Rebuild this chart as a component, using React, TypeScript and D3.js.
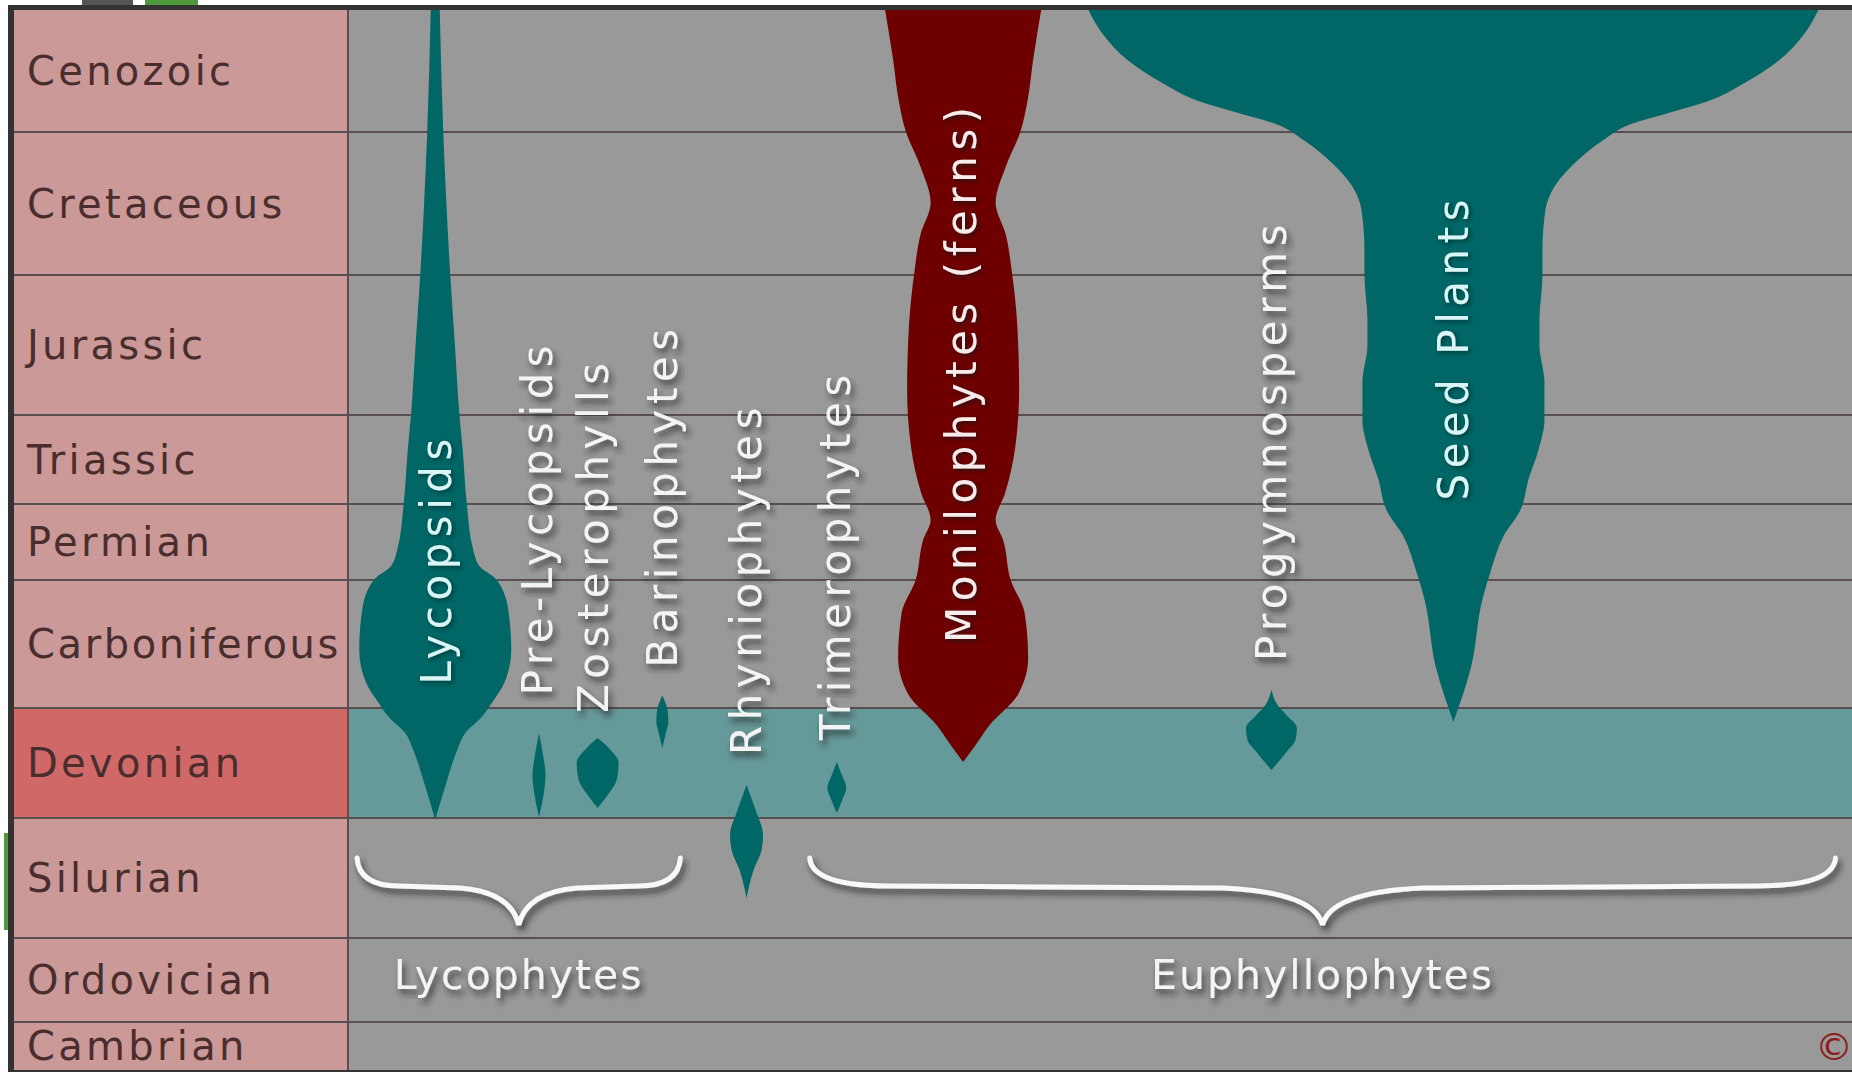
import * as d3 from 'd3';

const W = 1852;
const H = 1074;
const LABEL_COL = 348; // right edge of the period label column
const FRAME_LEFT = 14;

// geological periods, youngest first
const periods = ['Cenozoic', 'Cretaceous', 'Jurassic', 'Triassic', 'Permian', 'Carboniferous', 'Devonian', 'Silurian', 'Ordovician', 'Cambrian'];
// period boundaries in Ma
const boundariesMa = [0, 66, 145, 201, 252, 299, 359, 419, 443, 485, 541];
// rows are not to time scale: pixel edge of each boundary
const ROW_EDGES = [10, 132, 275, 415, 504, 580, 708, 818, 938, 1022, 1070];
const highlighted = 'Devonian';

// taxa (spindles): name, lane (0-100 across the plot), colour
const taxa = ['Lycopsids', 'Pre-Lycopsids', 'Zosterophylls', 'Barinophytes', 'Rhyniophytes', 'Trimerophytes', 'Monilophytes (ferns)', 'Progymnosperms', 'Seed Plants'];
const taxonLane = [5.8, 12.7, 16.6, 20.9, 26.5, 32.5, 40.9, 61.4, 73.5];
const taxonKind = ['teal', 'teal', 'teal', 'teal', 'teal', 'teal', 'fern', 'teal', 'teal'];

// label anchor: lane of the rotated label, age where the text starts (bottom)
const labelLane = [5.9, 12.6, 16.3, 20.9, 26.5, 32.4, 40.8, 61.4, 73.5];
const labelAge = [348, 353, 361.7, 340, 384.6, 376.5, 328.5, 337, 250];

// spindle profiles: [age Ma, relative diversity]
const lycopsids = [[0, 0.9], [66, 1.6], [104, 2.2], [145, 3.0], [175, 4.0], [200, 4.8], [221, 5.5], [251.4, 6.3], [280.4, 7.6], [291, 9.0], [297.1, 11.7], [303.7, 13.5], [316.4, 14.8], [331.8, 15.2], [347.3, 13.8], [356.7, 11.3], [363.9, 9.3], [372.6, 6.0], [381.9, 4.4], [399.9, 2.2], [419.4, 0]];
const preLycopsids = [[372.6, 0], [384.6, 0.8], [395.5, 1.3], [406.5, 0.9], [418.5, 0]];
const zosterophylls = [[375.4, 0], [380.8, 2.2], [389, 4.2], [398.3, 3.8], [406.5, 2.0], [413.5, 0]];
const barinophytes = [[353, 0], [361.2, 1.1], [366.6, 1.2], [373.7, 0.6], [380.8, 0]];
const rhyniophytes = [[401, 0], [414.6, 1.8], [422.4, 3.3], [425.4, 3.0], [429.4, 1.4], [435, 0]];
const trimerophytes = [[388.5, 0], [395.5, 1.0], [402.6, 1.9], [409, 1.1], [416.3, 0]];
const monilophytes = [[0, 15.6], [27, 14.0], [48.7, 12.9], [65.5, 11.5], [85.3, 8.5], [105.2, 6.5], [122.3, 8.5], [144.4, 9.8], [164.2, 10.8], [191, 11.2], [219.9, 10.4], [245.7, 8.4], [261.9, 6.5], [274.2, 8.0], [299, 9.5], [314.5, 12.3], [335.6, 13.0], [352.5, 11.0], [368.3, 5.3], [379.2, 2.5], [388.5, 0]];
const progymnosperms = [[350.5, 0], [357.6, 1.2], [362.8, 3.0], [369.9, 5.1], [376.5, 4.8], [383, 3.0], [392.8, 0]];
const seedPlants = [[0, 73], [13.5, 70], [27, 65.2], [39.5, 58.2], [49.2, 51], [55.7, 43], [61.7, 35.5], [70.4, 30], [82.6, 24.5], [95.3, 20.4], [109, 18.4], [131, 17.8], [145, 17.8], [163, 17.2], [173, 17.2], [188, 18.2], [204, 18.2], [221, 17.0], [238, 15.0], [255.7, 13.4], [272, 10.0], [293, 7.5], [308, 5.8], [340, 3.5], [366.6, 0]];
const profiles = [lycopsids, preLycopsids, zosterophylls, barinophytes, rhyniophytes, trimerophytes, monilophytes, progymnosperms, seedPlants];

// bracketed groups, lanes spanned
const groups = ['Lycophytes', 'Euphyllophytes'];
const groupFrom = [0.6, 30.7];
const groupTo = [22.1, 98.9];

const BRACE_TOP = 858;
const BRACE_MID = 886;
const BRACE_TIP = 925;
const GROUP_BASELINE = 989;

const COLORS = {
  plot: '#999999',
  band: '#669999',
  labelCol: '#cc9999',
  labelHi: '#d06868',
  grid: '#585050',
  frame: '#333333',
  teal: '#006666',
  fern: '#6e0000',
  periodText: '#4a2e2e',
};

const FONT = '"DejaVu Sans", Verdana, sans-serif';

function bracePath(x0: number, x1: number) {
  const xm = (x0 + x1) / 2;
  const span = x1 - x0;
  const endRun = Math.min(80, span * 0.13);
  const tipRun = Math.min(100, span * 0.18);
  const p = d3.path();
  p.moveTo(x0, BRACE_TOP);
  p.quadraticCurveTo(x0 + 2, BRACE_MID, x0 + endRun, BRACE_MID);
  p.lineTo(xm - tipRun, BRACE_MID + 2);
  p.quadraticCurveTo(xm - 8, BRACE_MID + 6, xm, BRACE_TIP);
  p.quadraticCurveTo(xm + 8, BRACE_MID + 6, xm + tipRun, BRACE_MID + 2);
  p.lineTo(x1 - endRun, BRACE_MID);
  p.quadraticCurveTo(x1 - 2, BRACE_MID, x1, BRACE_TOP);
  return p.toString();
}

export default function App() {
  const y = d3.scaleLinear().domain(boundariesMa).range(ROW_EDGES);
  const x = d3.scaleLinear().domain([0, 100]).range([LABEL_COL, W]);
  const w = d3.scaleLinear().domain([0, 10]).range([0, 100]);

  const spindle = (lane: number) =>
    d3.area<number[]>()
      .y(d => y(d[0]))
      .x0(d => x(lane) - w(d[1]) / 2)
      .x1(d => x(lane) + w(d[1]) / 2)
      .curve(d3.curveMonotoneY);

  const top = ROW_EDGES[0];
  const bottom = ROW_EDGES[ROW_EDGES.length - 1];

  return (
    <svg
      width={W}
      height={H}
      viewBox={`0 0 ${W} ${H}`}
      style={{ position: 'absolute', left: 0, top: 0, display: 'block', background: '#fff' }}
    >
      <defs>
        <filter id="shadow" x="-20%" y="-20%" width="140%" height="160%">
          <feDropShadow dx="3" dy="5" stdDeviation="3" floodColor="#222" floodOpacity="0.75" />
        </filter>
        <filter id="shadowSoft" x="-20%" y="-20%" width="140%" height="140%">
          <feDropShadow dx="2" dy="2" stdDeviation="2" floodColor="#002222" floodOpacity="0.6" />
        </filter>
        <clipPath id="plotClip">
          <rect x={LABEL_COL} y={top} width={W - LABEL_COL} height={bottom - top} />
        </clipPath>
      </defs>

      {/* bits of the page above / left of the frame */}
      <rect x={82} y={0} width={51} height={6} fill="#555" />
      <rect x={145} y={0} width={53} height={6} fill="#4e9a3c" />
      <rect x={4} y={833} width={5} height={97} fill="#4e9a3c" />

      {/* frame */}
      <rect x={8} y={5} width={W - 8} height={bottom - 3} fill={COLORS.frame} />

      {/* plot background and period label cells */}
      <rect x={LABEL_COL} y={top} width={W - LABEL_COL} height={bottom - top} fill={COLORS.plot} />
      {periods.map((p, i) => (
        <rect
          key={p}
          x={FRAME_LEFT}
          y={y(boundariesMa[i])}
          width={LABEL_COL - FRAME_LEFT}
          height={y(boundariesMa[i + 1]) - y(boundariesMa[i])}
          fill={p === highlighted ? COLORS.labelHi : COLORS.labelCol}
        />
      ))}
      {periods.map((p, i) =>
        p === highlighted ? (
          <rect
            key={'band' + p}
            x={LABEL_COL}
            y={y(boundariesMa[i])}
            width={W - LABEL_COL}
            height={y(boundariesMa[i + 1]) - y(boundariesMa[i])}
            fill={COLORS.band}
          />
        ) : null
      )}

      {/* row lines */}
      {boundariesMa.slice(1, -1).map(b => (
        <line key={b} x1={FRAME_LEFT} x2={W} y1={y(b)} y2={y(b)} stroke={COLORS.grid} strokeWidth={2} />
      ))}
      <line x1={LABEL_COL} x2={LABEL_COL} y1={top} y2={bottom} stroke={COLORS.grid} strokeWidth={2} />

      {/* period names */}
      {periods.map((p, i) => (
        <text
          key={'t' + p}
          x={27}
          y={(y(boundariesMa[i]) + y(boundariesMa[i + 1])) / 2}
          dominantBaseline="central"
          fontFamily={FONT}
          fontSize={40}
          letterSpacing={p === 'Carboniferous' ? 2.6 : 3.3}
          fill={COLORS.periodText}
        >
          {p}
        </text>
      ))}

      {/* spindles */}
      <g clipPath="url(#plotClip)">
        {taxa.map((t, i) => (
          <path
            key={'s' + t}
            d={spindle(taxonLane[i])(profiles[i] as number[][]) || ''}
            fill={taxonKind[i] === 'fern' ? COLORS.fern : COLORS.teal}
          />
        ))}
      </g>

      {/* rotated taxon labels */}
      {taxa.map((t, i) => {
        const onShape = i === 0 || i === 6 || i === 8;
        const fill = i === 6 ? '#f6ecec' : onShape ? '#d9f5f5' : '#f4f4f4';
        return (
          <g key={'l' + t} filter={onShape ? 'url(#shadowSoft)' : 'url(#shadow)'}>
            <text
              transform={`translate(${x(labelLane[i])},${y(labelAge[i])}) rotate(-90)`}
              dominantBaseline="central"
              fontFamily={FONT}
              fontSize={42}
              letterSpacing={5.5}
              fill={fill}
            >
              {t}
            </text>
          </g>
        );
      })}

      {/* group braces and names */}
      {groups.map((g, i) => {
        const x0 = x(groupFrom[i]);
        const x1 = x(groupTo[i]);
        return (
          <g key={'g' + g} filter="url(#shadow)">
            <path d={bracePath(x0, x1)} fill="none" stroke="#f8f8f8" strokeWidth={5} strokeLinecap="round" />
            <text
              x={(x0 + x1) / 2}
              y={GROUP_BASELINE}
              textAnchor="middle"
              fontFamily={FONT}
              fontSize={41}
              letterSpacing={2}
              fill="#f4f4f4"
            >
              {g}
            </text>
          </g>
        );
      })}

      {/* copyright mark */}
      <text x={1834} y={1060} textAnchor="middle" fontFamily={FONT} fontSize={38} fill="#8b1c1c">
        ©
      </text>
    </svg>
  );
}
